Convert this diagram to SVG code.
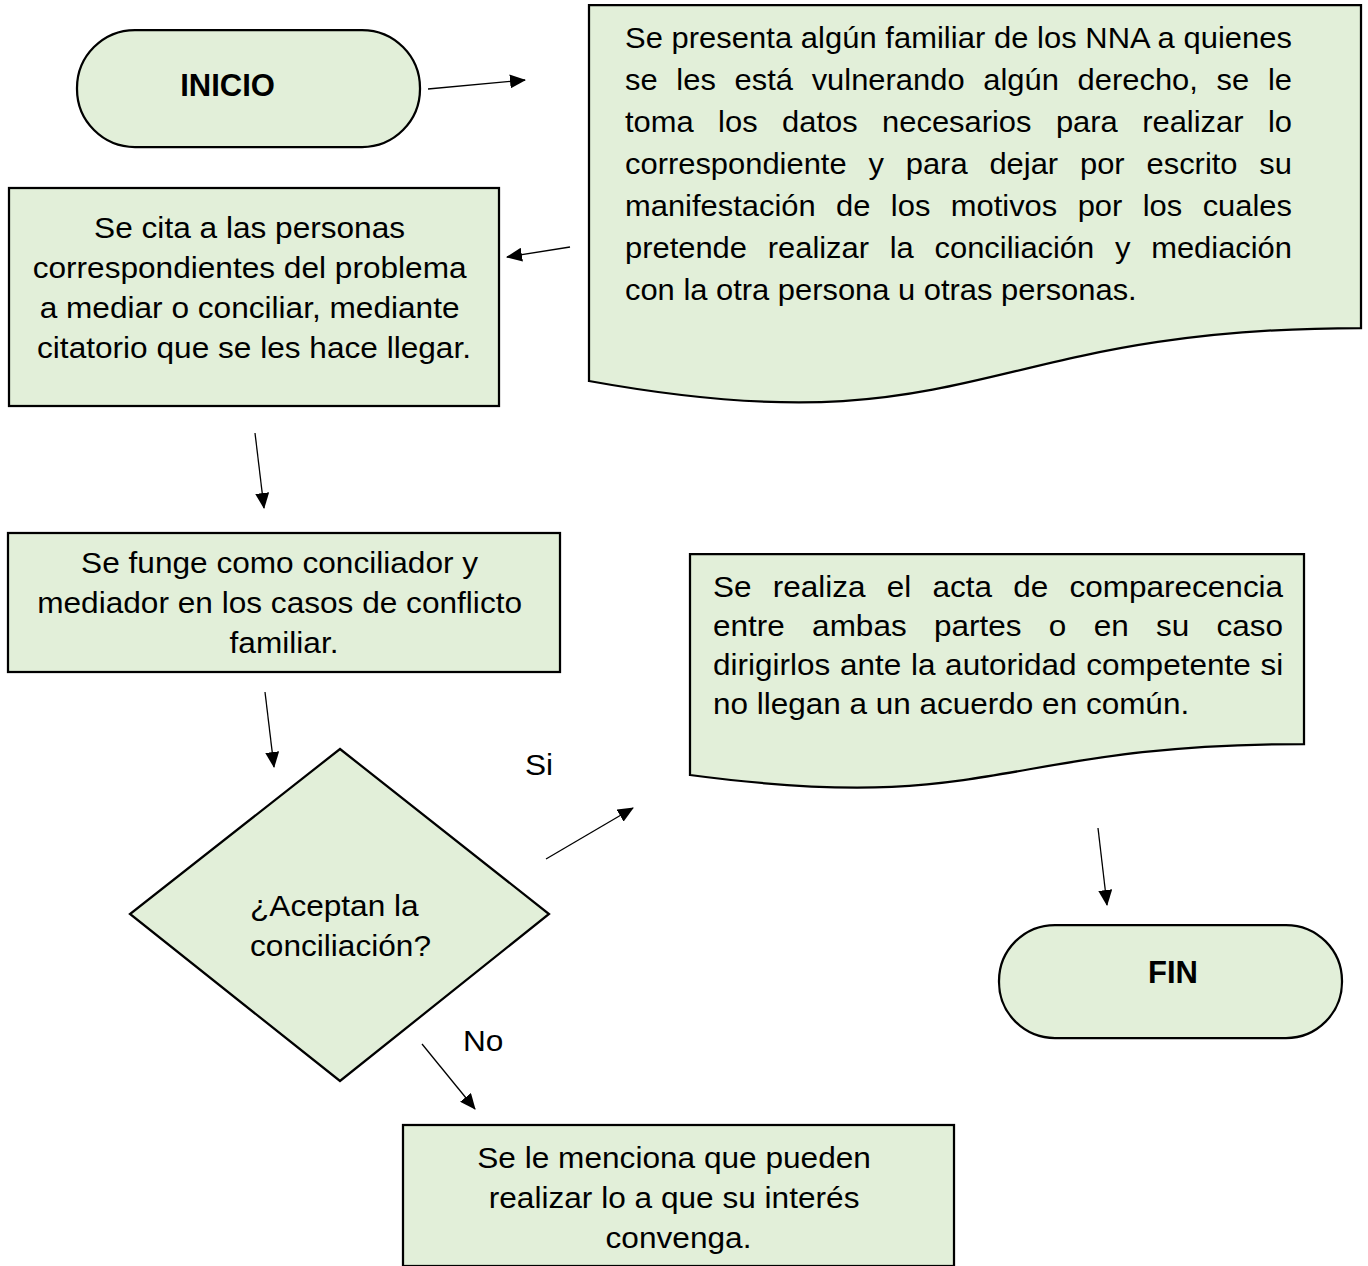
<svg xmlns="http://www.w3.org/2000/svg" width="1368" height="1266" viewBox="0 0 1368 1266">
<style>
.shape{fill:#E2EFD9;stroke:#000;stroke-width:2.25}
.txt{font-family:"Liberation Sans",Arial,sans-serif;font-size:29px;fill:#000}
.bold{font-family:"Liberation Sans",Arial,sans-serif;font-size:31px;font-weight:bold;fill:#000}
.conn{stroke:#000;stroke-width:1.3;fill:none;marker-end:url(#arrow)}
</style>
<defs>
<marker id="arrow" markerUnits="userSpaceOnUse" markerWidth="16" markerHeight="14" refX="15" refY="7" orient="auto">
<path d="M0,0 L16,7 L0,14 Z" fill="#000"/>
</marker>
</defs>
<rect width="1368" height="1266" fill="#fff"/>

<g id="inicio">
<rect class="shape" x="77" y="30" width="343" height="117" rx="58" ry="58"/>
<text class="bold" x="227.5" y="96" text-anchor="middle">INICIO</text>
</g>

<g id="doc1">
<path class="shape" d="M589,5 H1361 V328 C975,328 975,451 589,381 Z"/>
<text class="txt" transform="translate(625,0) scale(1.0655,1)" x="0" y="48" textLength="626" lengthAdjust="spacing">Se presenta algún familiar de los NNA a quienes</text>
<text class="txt" transform="translate(625,0) scale(1.0655,1)" x="0" y="90" word-spacing="9.5" textLength="626" lengthAdjust="spacing">se les está vulnerando algún derecho, se le</text>
<text class="txt" transform="translate(625,0) scale(1.0655,1)" x="0" y="132" word-spacing="14.9" textLength="626" lengthAdjust="spacing">toma los datos necesarios para realizar lo</text>
<text class="txt" transform="translate(625,0) scale(1.0655,1)" x="0" y="174" word-spacing="12.45" textLength="626" lengthAdjust="spacing">correspondiente y para dejar por escrito su</text>
<text class="txt" transform="translate(625,0) scale(1.0655,1)" x="0" y="216" word-spacing="11.1" textLength="626" lengthAdjust="spacing">manifestación de los motivos por los cuales</text>
<text class="txt" transform="translate(625,0) scale(1.0655,1)" x="0" y="258" word-spacing="11.4" textLength="626" lengthAdjust="spacing">pretende realizar la conciliación y mediación</text>
<text class="txt" transform="translate(625,0) scale(1.0655,1)" x="0" y="300">con la otra persona u otras personas.</text>
</g>

<g id="citar">
<rect class="shape" x="9" y="188" width="490" height="218"/>
<text class="txt" transform="translate(254,0) scale(1.09,1)" text-anchor="middle">
<tspan x="0" y="238">Se cita a las personas</tspan>
<tspan x="0" y="278">correspondientes del problema</tspan>
<tspan x="0" y="318">a mediar o conciliar, mediante</tspan>
<tspan x="0" y="358">citatorio que se les hace llegar.</tspan>
</text>
</g>

<g id="fungir">
<rect class="shape" x="8" y="533" width="552" height="139"/>
<text class="txt" transform="translate(284,0) scale(1.09,1)" text-anchor="middle">
<tspan x="0" y="573">Se funge como conciliador y</tspan>
<tspan x="0" y="613">mediador en los casos de conflicto</tspan>
<tspan x="0" y="653">familiar.</tspan>
</text>
</g>

<g id="decision">
<path class="shape" d="M340,749 L549,914 L340,1081 L130,914 Z"/>
<text class="txt" transform="translate(250,0) scale(1.09,1)">
<tspan x="0" y="916">¿Aceptan la</tspan>
<tspan x="0" y="956">conciliación?</tspan>
</text>
</g>

<g id="doc2">
<path class="shape" d="M690,554 H1304 V744 C997,744 997,816 690,775 Z"/>
<text class="txt" transform="translate(713,0) scale(1.086,1)" x="0" y="597" word-spacing="11.5" textLength="525" lengthAdjust="spacing">Se realiza el acta de comparecencia</text>
<text class="txt" transform="translate(713,0) scale(1.086,1)" x="0" y="636" word-spacing="17.1" textLength="525" lengthAdjust="spacing">entre ambas partes o en su caso</text>
<text class="txt" transform="translate(713,0) scale(1.086,1)" x="0" y="675" word-spacing="0.86" textLength="525" lengthAdjust="spacing">dirigirlos ante la autoridad competente si</text>
<text class="txt" transform="translate(713,0) scale(1.086,1)" x="0" y="714">no llegan a un acuerdo en común.</text>
</g>

<g id="fin">
<rect class="shape" x="999" y="925" width="343" height="113" rx="56" ry="56"/>
<text class="bold" x="1173" y="983" text-anchor="middle">FIN</text>
</g>

<g id="mencionar">
<rect class="shape" x="403" y="1125" width="551" height="141"/>
<text class="txt" transform="translate(678.5,0) scale(1.09,1)" text-anchor="middle">
<tspan x="0" y="1168">Se le menciona que pueden</tspan>
<tspan x="0" y="1208">realizar lo a que su interés</tspan>
<tspan x="0" y="1248">convenga.</tspan>
</text>
</g>

<g id="labels">
<text class="txt" transform="translate(525,0) scale(1.09,1)" x="0" y="775">Si</text>
<text class="txt" transform="translate(463,0) scale(1.09,1)" x="0" y="1051">No</text>
</g>

<g id="connectors">
<line class="conn" x1="428" y1="89" x2="525" y2="80"/>
<line class="conn" x1="570" y1="247" x2="507" y2="257"/>
<line class="conn" x1="255" y1="433" x2="264" y2="508"/>
<line class="conn" x1="265" y1="692" x2="274" y2="767"/>
<line class="conn" x1="546" y1="859" x2="633" y2="808"/>
<line class="conn" x1="422" y1="1044" x2="475" y2="1109"/>
<line class="conn" x1="1098" y1="828" x2="1107" y2="905"/>
</g>
</svg>
